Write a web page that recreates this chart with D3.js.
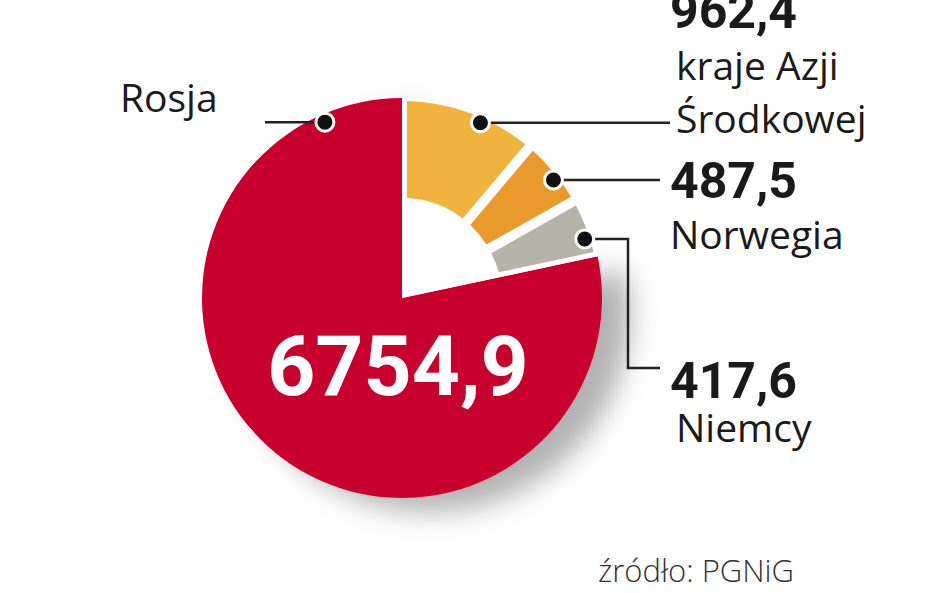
<!DOCTYPE html>
<html><head><meta charset="utf-8">
<script src="https://cdn.jsdelivr.net/npm/d3@7"></script>
<style>body{margin:0;background:#fff}</style>
</head><body>
<script>
// data
var names = ["kraje Azji Środkowej", "Norwegia", "Niemcy", "Rosja"];
var values = [962.4, 487.5, 417.6, 6754.9];
var valueLabels = ["962,4", "487,5", "417,6", "6754,9"];
var colors = ["#f0b43e", "#e99a2a", "#b4b5a7", "#c8002f"];

var width = 948, height = 593;
var cx = 402, cy = 298, R = 200;

var svg = d3.select("body").append("svg").attr("width", width).attr("height", height);

var defs = svg.append("defs");
var f = defs.append("filter").attr("id", "sh").attr("x", "-20%").attr("y", "-20%").attr("width", "160%").attr("height", "160%");
f.append("feDropShadow").attr("dx", 28).attr("dy", 14).attr("stdDeviation", 14).attr("flood-color", "#000").attr("flood-opacity", 0.3);

var pie = d3.pie().sort(null).value(d => d)(values);
var g = svg.append("g").attr("transform", `translate(${cx},${cy})`);

var arcRed = d3.arc().innerRadius(0).outerRadius(R);
var arcSmall = d3.arc().innerRadius(100).outerRadius(R - 3).padAngle(0.045);

g.append("path").datum(pie[3]).attr("d", arcRed).attr("fill", colors[3]).attr("filter", "url(#sh)");
// white backdrop keeps the notch clean of shadow
g.append("path").attr("d", d3.arc().innerRadius(0).outerRadius(R)({ startAngle: 0, endAngle: pie[3].startAngle }))
  .attr("fill", "#fff");
g.selectAll(".small").data(pie.slice(0, 3)).join("path")
  .attr("class", "small")
  .attr("d", arcSmall)
  .attr("fill", (d, i) => colors[i]);

// dots & leaders
var dotAngles = [pie[0].startAngle + (pie[0].endAngle - pie[0].startAngle) * 0.6,
  (pie[1].startAngle + pie[1].endAngle) / 2 + 0.03,
  (pie[2].startAngle + pie[2].endAngle) / 2 + 0.05,
  5.87];
function pt(a) { return [cx + Math.sin(a) * (R - 8), cy - Math.cos(a) * (R - 8)]; }
var dots = dotAngles.map(pt);

var lines = [
  [dots[0], [670, dots[0][1]]],
  [dots[1], [660, dots[1][1]]],
  [dots[2], [628, dots[2][1]], [628, 368], [660, 368]],
  [dots[3], [265, dots[3][1]]]
];
svg.selectAll(".lead").data(lines).join("path")
  .attr("d", d => d3.line()(d)).attr("fill", "none").attr("stroke", "#222").attr("stroke-width", 2.5);
svg.selectAll(".dot").data(dots).join("circle")
  .attr("cx", d => d[0]).attr("cy", d => d[1]).attr("r", 9)
  .attr("fill", "#111").attr("stroke", "#fff").attr("stroke-width", 3);

var font = "'Open Sans', Roboto, sans-serif";
var bold = "Roboto, 'Open Sans', sans-serif";
function t(x, y, s, size, w, fill, fam) {
  svg.append("text").attr("x", x).attr("y", y).text(s)
    .attr("font-family", fam || font).attr("font-size", size).attr("font-weight", w || 400)
    .attr("fill", fill || "#1a1a1a");
}
t(670, 28, valueLabels[0], 50, 700, null, bold);
t(676, 80, "kraje Azji", 39);
t(676, 133, "Środkowej", 39);
t(670, 198, valueLabels[1], 50, 700, null, bold);
t(670, 249, names[1], 39);
t(670, 398, valueLabels[2], 50, 700, null, bold);
t(676, 442, names[2], 39);
t(120, 112, names[3], 39);
svg.append("text").attr("x", 398).attr("y", 395).attr("text-anchor", "middle")
  .attr("font-family", bold).attr("font-size", 84).attr("font-weight", 700)
  .attr("fill", "#fff").text(valueLabels[3]);
t(598, 582, "źródło: PGNiG", 31, 300, "#333");
</script>
</body></html>
